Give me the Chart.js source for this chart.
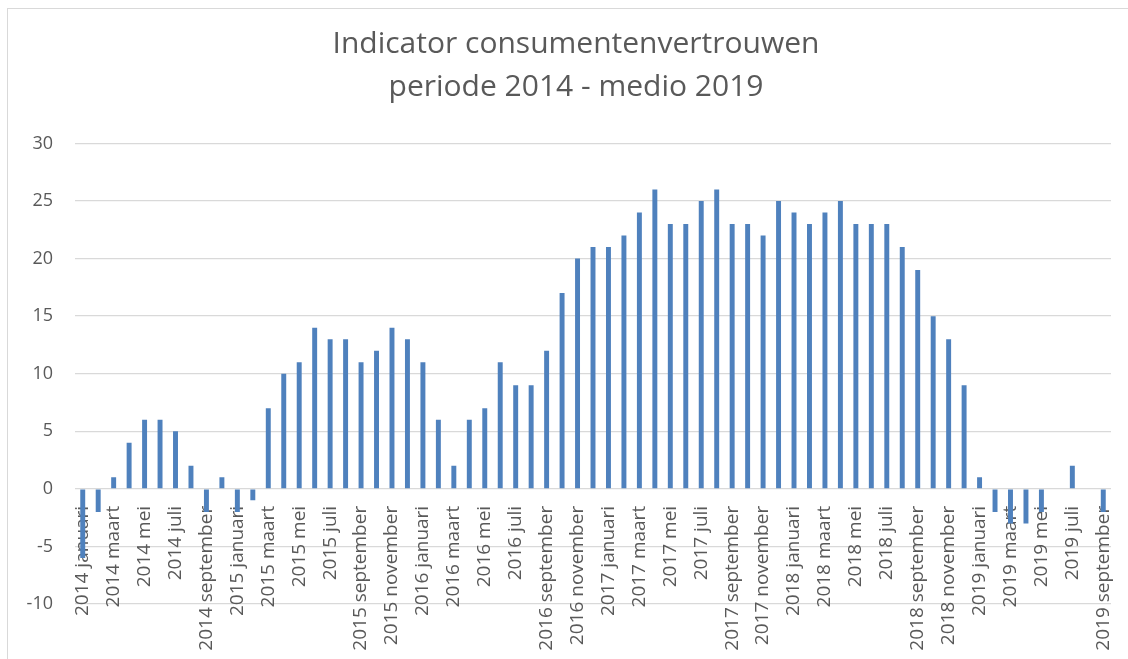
<!DOCTYPE html>
<html>
<head>
<meta charset="utf-8">
<script src="https://cdn.jsdelivr.net/npm/chart.js@4"></script>
<style>
  body { margin: 0; background: #fff; overflow: hidden; }
  #wrap { position: relative; width: 1128px; height: 659px; }
  #frame { position: absolute; left: 7px; top: 8px; width: 1200px; height: 700px; border: 1px solid #d9d9d9; box-sizing: border-box; }
  canvas { position: absolute; left: 0; top: 0; }
</style>
</head>
<body>
<div id="wrap">
  <div id="frame"></div>
  <canvas id="chart" width="1128" height="659"></canvas>
</div>
<script>
// categorieen (maanden), om de andere wordt getoond
const maanden = [
    "2014 januari", "2014 februari", "2014 maart", "2014 april", "2014 mei", "2014 juni",
    "2014 juli", "2014 augustus", "2014 september", "2014 november",
    "2015 januari", "2015 februari", "2015 maart", "2015 april", "2015 mei", "2015 juni",
    "2015 juli", "2015 augustus", "2015 september", "2015 oktober", "2015 november", "2015 december",
    "2016 januari", "2016 februari", "2016 maart", "2016 april", "2016 mei", "2016 juni",
    "2016 juli", "2016 augustus", "2016 september", "2016 oktober", "2016 november", "2016 december",
    "2017 januari", "2017 februari", "2017 maart", "2017 april", "2017 mei", "2017 juni",
    "2017 juli", "2017 augustus", "2017 september", "2017 oktober", "2017 november", "2017 december",
    "2018 januari", "2018 februari", "2018 maart", "2018 april", "2018 mei", "2018 juni",
    "2018 juli", "2018 augustus", "2018 september", "2018 oktober", "2018 november", "2018 december",
    "2019 januari", "2019 februari", "2019 maart", "2019 april", "2019 mei", "2019 juni",
    "2019 juli", "2019 augustus", "2019 september"
];

const vertrouwen = [
    -6, -2, 1, 4, 6, 6, 5, 2, -2, 1,
    -2, -1, 7, 10, 11, 14, 13, 13, 11, 12, 14, 13,
    11, 6, 2, 6, 7, 11, 9, 9, 12, 17, 20, 21,
    21, 22, 24, 26, 23, 23, 25, 26, 23, 23, 22, 25,
    24, 23, 24, 25, 23, 23, 23, 21, 19, 15, 13, 9,
    1, -2, -3, -3, -2, 0, 2, 0, -2
];

const titel = ["Indicator consumentenvertrouwen", "periode 2014 - medio 2019"];
const yMin = -10;
const yMax = 30;
const yStap = 5;

const tekstKleur = '#595959';
const rasterKleur = '#d9d9d9';

// titel staat in het origineel iets rechts van het midden
const titelNaarRechts = {
    id: 'titelNaarRechts',
    afterLayout(chart) {
        const t = chart.titleBlock;
        if (!t) return;
        const dx = 576 - (t.left + t.right) / 2;
        t.left += dx;
        t.right += dx;
    }
};

const ctx = document.getElementById("chart").getContext("2d");

const data = {
    labels: maanden,
    datasets: [{
        data: vertrouwen,
        backgroundColor: '#4f81bd',
        borderWidth: 0,
        barPercentage: 0.32,
        categoryPercentage: 1.0
    }]
};

const options = {
    responsive: false,
    animation: false,
    devicePixelRatio: 1,
    layout: {
        padding: { left: 0, right: 17, top: 0, bottom: 55 }
    },
    scales: {
        x: {
            position: { y: 0 },
            z: 1,
            afterFit: function (scale) {
                scale.paddingLeft = 0;
                scale.paddingRight = 0;
            },
            grid: { display: false, drawTicks: false },
            border: { display: false },
            ticks: {
                autoSkip: false,
                maxRotation: 90,
                minRotation: 90,
                padding: 17,
                color: tekstKleur,
                font: { family: "'Open Sans'", size: 19 },
                callback: function (value, index) {
                    return index % 2 === 0 ? this.getLabelForValue(value) : '';
                }
            }
        },
        y: {
            min: yMin,
            max: yMax,
            afterFit: function (scale) { scale.width = 75; },
            grid: { color: rasterKleur, lineWidth: 1.3, drawTicks: false },
            border: { display: false },
            ticks: {
                stepSize: yStap,
                padding: 22,
                color: tekstKleur,
                font: { family: "'Open Sans'", size: 18 }
            }
        }
    },
    plugins: {
        legend: { display: false },
        tooltip: { enabled: false },
        title: {
            display: true,
            text: titel,
            color: tekstKleur,
            font: { family: "'Open Sans'", size: 30, weight: 'normal', lineHeight: 1.44 },
            padding: { top: 23, bottom: 34 }
        }
    }
};

let chart = new Chart(ctx, {
    type: 'bar',
    data: data,
    options: options,
    plugins: [titelNaarRechts]
});
</script>
</body>
</html>
